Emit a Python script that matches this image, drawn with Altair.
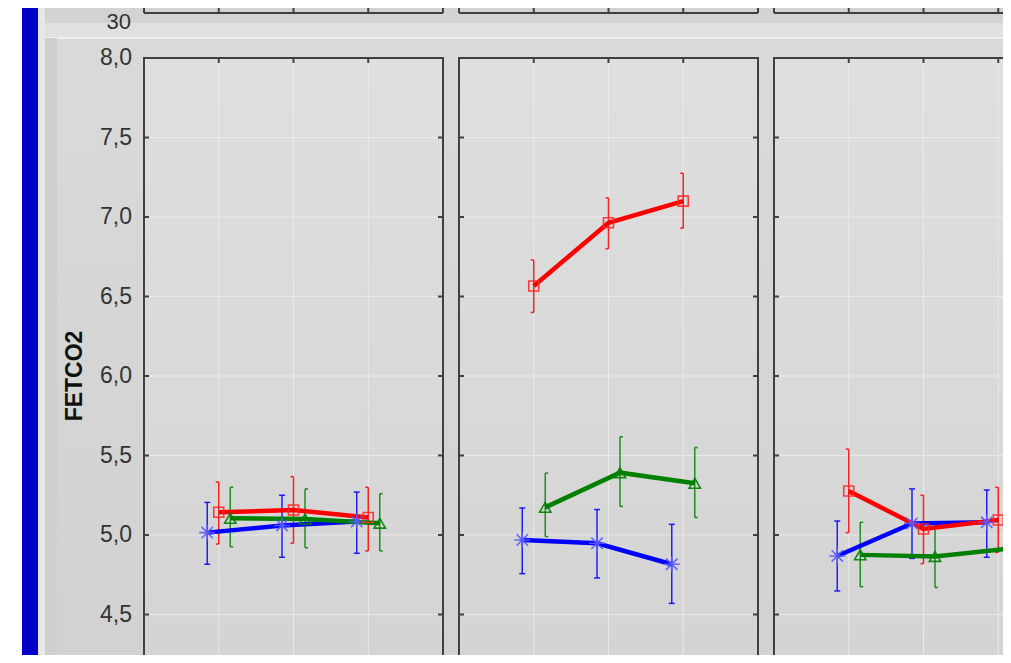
import altair as alt
import pandas as pd

# ---------------- data ----------------
panel_names = ["Panel 1", "Panel 2", "Panel 3"]
time_points = [1, 2, 3]
series_names = ["Blue group", "Red group", "Green group"]

blue_mean = [[5.015, 5.06, 5.085], [4.969, 4.948, 4.816], [4.868, 5.073, 5.08]]
blue_low = [[4.816, 4.86, 4.885], [4.757, 4.73, 4.57], [4.648, 4.853, 4.86]]
blue_high = [[5.205, 5.25, 5.27], [5.17, 5.16, 5.067], [5.088, 5.29, 5.283]]

red_mean = [[5.143, 5.157, 5.11], [6.566, 6.964, 7.10], [5.277, 5.038, 5.094]]
red_low = [[4.943, 4.948, 4.90], [6.40, 6.80, 6.93], [5.015, 4.82, 4.89]]
red_high = [[5.333, 5.367, 5.30], [6.73, 7.12, 7.275], [5.54, 5.25, 5.30]]

green_mean = [[5.105, 5.10, 5.074], [5.174, 5.392, 5.325], [4.875, 4.865, 4.915]]
green_low = [[4.926, 4.92, 4.90], [4.99, 5.18, 5.11], [4.675, 4.67, 4.67]]
green_high = [[5.30, 5.29, 5.26], [5.39, 5.618, 5.55], [5.08, 5.06, 5.14]]

y_ticks = [4.5, 5.0, 5.5, 6.0, 6.5, 7.0, 7.5, 8.0]
y_tick_labels = ["4,5", "5,0", "5,5", "6,0", "6,5", "7,0", "7,5", "8,0"]
y_domain = [4.0, 8.0]
y_title = ["FETCO2"]
top_panel_label = ["30"]

# ---------------- layout / style ----------------
FONT = "Liberation Sans"
PANEL_W = 299
GAP_PX = 16
W = 3 * PANEL_W + 2 * GAP_PX
H = 636
UNIT = PANEL_W / 4.0
GAP = GAP_PX / UNIT
DODGE = 11.5 / UNIT
FRAME = "#404040"
PAD_L, PAD_T = 136, 50
SVG_W, SVG_H = 995, 647

series_colors = ["#0000ff", "#ff0000", "#008000"]
marker_colors = ["#5a5aff", "#ff2a2a", "#008000"]
marker_shapes = [
    "M-1,0L1,0M0,-1L0,1M-0.71,-0.71L0.71,0.71M-0.71,0.71L0.71,-0.71",
    "square",
    "triangle-up",
]
marker_sizes = [256, 100, 130]
cap_shapes = ["M-1,0L1,0", "M-1,0L0,0", "M0,0L1,0"]
offsets = [-DODGE, 0.0, DODGE]

means = [blue_mean, red_mean, green_mean]
lows = [blue_low, red_low, green_low]
highs = [blue_high, red_high, green_high]

rows = []
for si, name in enumerate(series_names):
    for p, pname in enumerate(panel_names):
        for ti, t in enumerate(time_points):
            rows.append(dict(series=name, panel=pname,
                             x=p * (4 + GAP) + t + offsets[si],
                             mean=means[si][p][ti], lo=lows[si][p][ti],
                             hi=highs[si][p][ti]))
df = pd.DataFrame(rows)

pan = pd.DataFrame([dict(panel=n, left=p * (4 + GAP), right=p * (4 + GAP) + 4,
                         ylo=y_domain[0], yhi=y_domain[1])
                    for p, n in enumerate(panel_names)])
grid_h = pd.DataFrame([dict(left=r.left, right=r.right, v=v)
                       for r in pan.itertuples() for v in y_ticks[:-1]])
grid_v = pd.DataFrame([dict(xg=r.left + t, ylo=y_domain[0], yhi=y_domain[1])
                       for r in pan.itertuples() for t in time_points])
edge_l = pd.DataFrame([dict(xe=r.left, v=v) for r in pan.itertuples() for v in y_ticks[:-1]])
edge_r = pd.DataFrame([dict(xe=r.right, v=v) for r in pan.itertuples() for v in y_ticks[:-1]])
ylab = pd.DataFrame({"v": y_ticks, "lab": y_tick_labels})

xs = alt.Scale(domain=[0, 12 + 2 * GAP], nice=False, zero=False)
ys = alt.Scale(domain=y_domain, nice=False, zero=False)

one = pd.DataFrame({"k": [0]})


def px_rect(x0, x1, y0, y1, fill):
    return alt.Chart(one).mark_rect(fill=fill).encode(
        x=alt.value(x0), x2=alt.value(x1), y=alt.value(y0), y2=alt.value(y1))


def grad(c0, c1):
    return alt.LinearGradient(gradient="linear",
                              stops=[alt.GradientStop(color=c0, offset=0),
                                     alt.GradientStop(color=c1, offset=1)],
                              x1=0, x2=0, y1=0, y2=1)


layers = []
# window background pieces (pixel positions relative to the plot origin)
layers.append(px_rect(-136, 960, -58, 730, grad("#dadada", "#d0d0d0")))
layers.append(px_rect(-99, 960, -58, -35, "#d3d3d3"))
layers.append(px_rect(-99, 960, -35, -20, "#e0e0e0"))
layers.append(alt.Chart(one).mark_rule(color="#f3f3f3", strokeWidth=1.5).encode(
    x=alt.value(-99), x2=alt.value(960), y=alt.value(-20)))
layers.append(px_rect(-99, -87, -20, 730, "#cfcfcf"))
layers.append(px_rect(-106, -99, -58, 730, "#e7e7e7"))
layers.append(px_rect(-136, -122, -58, 730, "#ffffff"))
layers.append(px_rect(-122, -106, -58, 730, "#0000c8"))

# remnant of the chart above
layers.append(alt.Chart(pan).mark_rule(color=FRAME, strokeWidth=2).encode(
    x=alt.X("left:Q", scale=xs, axis=None), x2="right:Q", y=alt.value(-45)))
for col in ["left", "right"]:
    layers.append(alt.Chart(pan).mark_rule(color=FRAME, strokeWidth=2).encode(
        x=alt.X(f"{col}:Q", scale=xs, axis=None), y=alt.value(-58), y2=alt.value(-45)))
layers.append(alt.Chart(grid_v).mark_point(shape="M0,0L0,-1", size=100, filled=False,
                                            color=FRAME, strokeWidth=2, opacity=1).encode(
    x=alt.X("xg:Q", scale=xs, axis=None), y=alt.value(-45)))
layers.append(alt.Chart(pd.DataFrame({"lab": top_panel_label})).mark_text(
    align="right", baseline="middle", font=FONT, fontSize=22, color="#333333").encode(
    x=alt.value(-13), y=alt.value(-36), text="lab:N"))

# panel backgrounds
layers.append(alt.Chart(pan).mark_rect(fill=grad("#dfdfdf", "#d3d3d3")).encode(
    x=alt.X("left:Q", scale=xs, axis=None), x2="right:Q",
    y=alt.Y("ylo:Q", scale=ys, axis=None), y2="yhi:Q"))

# y tick labels and axis title (placed through the y scale)
layers.append(alt.Chart(ylab).mark_text(
    align="right", baseline="middle", font=FONT, fontSize=23, color="#333333").encode(
    x=alt.value(-12), y=alt.Y("v:Q", scale=ys, axis=None), text="lab:N"))
layers.append(alt.Chart(pd.DataFrame({"t": y_title})).mark_text(
    align="center", baseline="middle", angle=270, font=FONT, fontSize=23,
    fontWeight="bold", color="#111111").encode(
    x=alt.value(-69), y=alt.value(H / 2), text="t:N"))

# grid lines
layers.append(alt.Chart(grid_h).mark_rule(color="#eeeeee", strokeWidth=1, opacity=0.8).encode(
    x=alt.X("left:Q", scale=xs, axis=None), x2="right:Q",
    y=alt.Y("v:Q", scale=ys, axis=None)))
layers.append(alt.Chart(grid_v).mark_rule(color="#eeeeee", strokeWidth=1, opacity=0.8).encode(
    x=alt.X("xg:Q", scale=xs, axis=None),
    y=alt.Y("ylo:Q", scale=ys, axis=None), y2="yhi:Q"))

# panel frames
layers.append(alt.Chart(pan).mark_rect(fillOpacity=0, stroke=FRAME, strokeWidth=2).encode(
    x=alt.X("left:Q", scale=xs, axis=None), x2="right:Q",
    y=alt.Y("ylo:Q", scale=ys, axis=None), y2="yhi:Q"))

# inward ticks
layers.append(alt.Chart(edge_l).mark_point(shape="M0,0L1,0", size=100, filled=False,
                                            color=FRAME, strokeWidth=2, opacity=1).encode(
    x=alt.X("xe:Q", scale=xs, axis=None), y=alt.Y("v:Q", scale=ys, axis=None)))
layers.append(alt.Chart(edge_r).mark_point(shape="M0,0L-1,0", size=100, filled=False,
                                            color=FRAME, strokeWidth=2, opacity=1).encode(
    x=alt.X("xe:Q", scale=xs, axis=None), y=alt.Y("v:Q", scale=ys, axis=None)))
layers.append(alt.Chart(grid_v).mark_point(shape="M0,0L0,1", size=100, filled=False,
                                            color=FRAME, strokeWidth=2, opacity=1).encode(
    x=alt.X("xg:Q", scale=xs, axis=None), y=alt.Y("yhi:Q", scale=ys, axis=None)))

# error bars and caps
for si, name in enumerate(series_names):
    base = alt.Chart(df).transform_filter(alt.datum.series == name)
    layers.append(base.mark_rule(color=series_colors[si], strokeWidth=1.5, opacity=0.85).encode(
        x=alt.X("x:Q", scale=xs, axis=None),
        y=alt.Y("lo:Q", scale=ys, axis=None), y2="hi:Q"))
    for fld in ["lo", "hi"]:
        layers.append(base.mark_point(shape=cap_shapes[si], size=36, filled=False,
                                      color=series_colors[si], strokeWidth=1.5, opacity=0.85).encode(
            x=alt.X("x:Q", scale=xs, axis=None),
            y=alt.Y(f"{fld}:Q", scale=ys, axis=None)))

# mean lines
for si, name in enumerate(series_names):
    base = alt.Chart(df).transform_filter(alt.datum.series == name)
    layers.append(base.mark_line(color=series_colors[si], strokeWidth=4.5).encode(
        x=alt.X("x:Q", scale=xs, axis=None),
        y=alt.Y("mean:Q", scale=ys, axis=None),
        detail="panel:N"))

# markers
for si, name in enumerate(series_names):
    base = alt.Chart(df).transform_filter(alt.datum.series == name)
    layers.append(base.mark_point(shape=marker_shapes[si], size=marker_sizes[si],
                                  filled=False, color=marker_colors[si],
                                  strokeWidth=1.6, opacity=0.9).encode(
        x=alt.X("x:Q", scale=xs, axis=None),
        y=alt.Y("mean:Q", scale=ys, axis=None)))

chart = alt.layer(*layers).properties(
    width=W, height=H,
    autosize=alt.AutoSizeParams(type="none"),
    padding={"left": PAD_L, "top": PAD_T,
             "right": SVG_W - PAD_L - W, "bottom": SVG_H - PAD_T - H},
).configure_view(stroke=None)

chart.save("out.html", embed_options={"renderer": "svg", "actions": False})
